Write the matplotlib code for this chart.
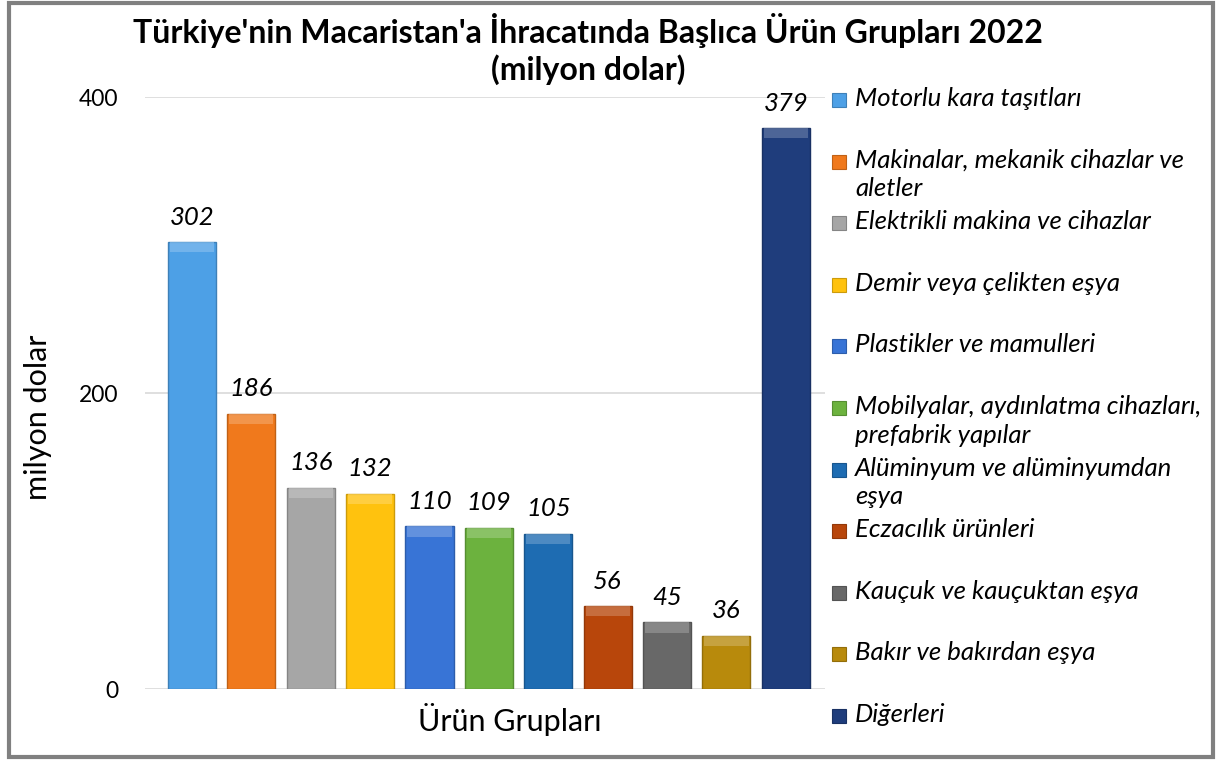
import matplotlib
matplotlib.use("Agg")
import matplotlib.pyplot as plt
from matplotlib.patches import Rectangle
import matplotlib.colors as mcolors
import numpy as np

plt.rcParams['font.family'] = ['Lato', 'DejaVu Sans']

categories = [
    "Motorlu kara taşıtları",
    "Makinalar, mekanik cihazlar ve\naletler",
    "Elektrikli makina ve cihazlar",
    "Demir veya çelikten eşya",
    "Plastikler ve mamulleri",
    "Mobilyalar, aydınlatma cihazları,\nprefabrik yapılar",
    "Alüminyum ve alüminyumdan\neşya",
    "Eczacılık ürünleri",
    "Kauçuk ve kauçuktan eşya",
    "Bakır ve bakırdan eşya",
    "Diğerleri",
]
values = [302, 186, 136, 132, 110, 109, 105, 56, 45, 36, 379]
colors = ["#4DA0E6", "#F0791C", "#A6A6A6", "#FFC20E", "#3874D6", "#6CB23E",
          "#1E6CB2", "#B8460B", "#686868", "#B88A0C", "#1F3D7C"]
yticks = [0, 200, 400]

W, H = 1219, 760
fig = plt.figure(figsize=(W / 100, H / 100), dpi=100)
ax = fig.add_axes([145 / W, 1 - 689 / H, (825 - 145) / W, (689 - 97) / H])

x = np.arange(len(values))
bw = 0.81
ax.bar(x, values, width=bw, color=colors,
       edgecolor=[mcolors.to_hex(np.array(mcolors.to_rgb(c)) * 0.8) for c in colors],
       linewidth=1, zorder=3)
# bevel highlight on top of each bar
band = 7
light = [np.clip(np.array(mcolors.to_rgb(c)) * 0.7 + 0.3, 0, 1) for c in colors]
ax.bar(x, [band] * len(values), bottom=[v - band for v in values], width=bw * 0.92,
       color=light, linewidth=0, zorder=4, alpha=0.7)

for xi, v in zip(x, values):
    ax.text(xi, v + 9, str(v), ha='center', va='bottom', fontsize=18.5,
            style='italic', zorder=5)

ax.set_xlim(-0.79, 10.66)
ax.set_ylim(0, 400)
ax.set_yticks(yticks)
ax.set_yticklabels([str(t) for t in yticks], fontsize=16.5)
ax.tick_params(axis='y', length=0, pad=19)
ax.set_xticks([])
for s in ax.spines.values():
    s.set_visible(False)
ax.grid(axis='y', color='#D9D9D9', linewidth=1.2, zorder=0)
ax.set_axisbelow(True)

fig.text(38 / W, 1 - 417 / H, "milyon dolar", ha='center', va='center',
         rotation=90, fontsize=22)
fig.text(510 / W, 1 - 720 / H, "Ürün Grupları", ha='center', va='center', fontsize=22)
fig.text(588 / W, 1 - 30 / H, "Türkiye'nin Macaristan'a İhracatında Başlıca Ürün Grupları 2022",
         ha='center', va='center', fontsize=23, fontweight='bold')
fig.text(588 / W, 1 - 70 / H, "(milyon dolar)",
         ha='center', va='center', fontsize=23, fontweight='bold')

# legend
for i, (lab, c) in enumerate(zip(categories, colors)):
    yc = 100 + 61.6 * i
    fig.add_artist(Rectangle((832 / W, 1 - (yc + 7) / H), 14 / W, 14 / H,
                             transform=fig.transFigure, facecolor=c,
                             edgecolor=mcolors.to_hex(np.array(mcolors.to_rgb(c)) * 0.8),
                             linewidth=0.8))
    fig.text(855 / W, 1 - (yc - 13) / H, lab, ha='left', va='top', fontsize=18.5,
             style='italic', linespacing=1.3)

# outer border
fig.add_artist(Rectangle((9 / W, 1 - 757 / H), (1213 - 9) / W, (757 - 3) / H,
                         transform=fig.transFigure, fill=False,
                         edgecolor='#808080', linewidth=3))

fig.savefig("out.png", dpi=100)
